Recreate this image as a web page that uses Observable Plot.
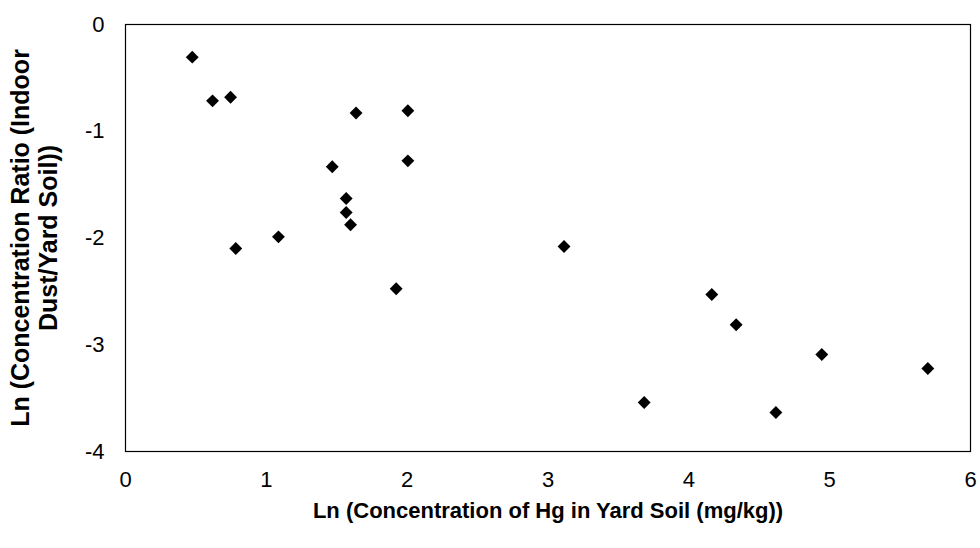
<!DOCTYPE html>
<html>
<head>
<meta charset="utf-8">
<script src="https://cdn.jsdelivr.net/npm/d3@7"></script>
<script src="https://cdn.jsdelivr.net/npm/@observablehq/plot@0.6"></script>
<style>
  html, body { margin: 0; padding: 0; background: #fff; }
  #chart { width: 980px; height: 548px; }
</style>
</head>
<body>
<div id="chart"></div>
<script>
const lnSoil = [0.474, 0.618, 0.746, 1.637, 1.468, 1.567, 1.567, 1.598, 1.086, 0.783,
                2.005, 2.005, 3.114, 1.922, 4.163, 4.336, 4.944, 5.697, 3.683, 4.618];
const lnRatio = [-0.306, -0.715, -0.681, -0.829, -1.332, -1.630, -1.761, -1.876, -1.989, -2.098,
                 -0.808, -1.277, -2.080, -2.476, -2.529, -2.813, -3.091, -3.222, -3.541, -3.635];
const xTicks = [0, 1, 2, 3, 4, 5, 6];
const yTicks = [0, -1, -2, -3, -4];
const xTitle = "Ln (Concentration of Hg in Yard Soil (mg/kg))";
const yTitle = "Ln (Concentration Ratio (Indoor\nDust/Yard Soil))";

const data = lnSoil.map((x, i) => ({x, y: lnRatio[i]}));

const chart = Plot.plot({
  width: 980,
  height: 548,
  marginLeft: 125,
  marginTop: 24,
  marginRight: 10,
  marginBottom: 97,
  style: {fontFamily: "'Liberation Sans', Arial, sans-serif", fontSize: "22px", background: "#fff", color: "#000"},
  x: {domain: [0, 6], label: null, axis: null},
  y: {domain: [-4, 0], label: null, axis: null},
  marks: [
    Plot.text(xTicks, {x: d => d, frameAnchor: "bottom", dy: 28, lineAnchor: "middle", textAnchor: "middle", text: d => String(d), fontSize: 22, fill: "#000"}),
    Plot.text(yTicks, {y: d => d, frameAnchor: "left", dx: -21, lineAnchor: "middle", textAnchor: "end", text: d => String(d), fontSize: 22, fill: "#000"}),
    Plot.frame({stroke: "#000", strokeWidth: 1.2}),
    Plot.dot(data, {x: "x", y: "y", symbol: "diamond2", r: 5.8, fill: "#000", stroke: "none"}),
    Plot.text([xTitle], {frameAnchor: "bottom", dy: 59, lineAnchor: "middle", textAnchor: "middle", fontSize: 22, fontWeight: "bold", fill: "#000"}),
    Plot.text([yTitle], {frameAnchor: "left", dx: -91, rotate: -90, lineAnchor: "middle", textAnchor: "middle", fontSize: 25, fontWeight: "bold", fill: "#000", lineHeight: 1.12})
  ]
});
document.getElementById("chart").appendChild(chart);
</script>
</body>
</html>
